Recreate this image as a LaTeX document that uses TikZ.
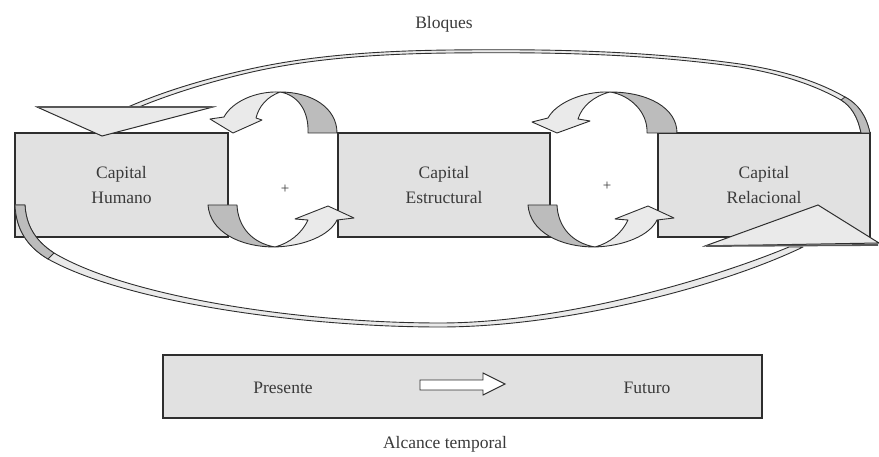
\documentclass[tikz,border=0pt]{standalone}
\usepackage{fontspec}
\setmainfont{Liberation Serif}
\definecolor{boxgray}{HTML}{E1E1E1}
\definecolor{facegray}{HTML}{EAEAEA}
\definecolor{backgray}{HTML}{BCBCBC}
\definecolor{inkgray}{HTML}{2E2E2E}
\definecolor{textgray}{HTML}{3A3A3A}
\begin{document}
\begin{tikzpicture}[x=1pt,y=-1pt,
  txt/.style={text=textgray,font=\fontsize{17.5}{25}\selectfont,align=center,inner sep=0pt},
  blockbox/.style={draw=inkgray,line width=1.4pt,fill=boxgray,inner sep=0pt,
    text=textgray,font=\fontsize{17.5}{25}\selectfont,align=center},
  backface/.style={draw=inkgray,line width=0.9pt,fill=backgray,line join=round},
  frontface/.style={draw=inkgray,line width=0.9pt,fill=facegray,line join=round},
  ribbon/.style={draw=inkgray,line width=0.9pt,fill=facegray,line join=round},
  bighead/.style={draw=inkgray,line width=1pt,fill=facegray,line join=miter},
  timearrow/.style={draw=inkgray,line width=0.9pt,fill=white}]
\useasboundingbox (0,0) rectangle (879,457);

% title
\node[txt] (bloques) at (444,24) {Bloques};

% the three capital blocks
\node[blockbox,minimum width=213pt,minimum height=104pt] (humano) at (121.5,185) {Capital\\Humano};
\node[blockbox,minimum width=212pt,minimum height=104pt] (estructural) at (444,185) {Capital\\Estructural};
\node[blockbox,minimum width=212pt,minimum height=104pt] (relacional) at (764,185) {Capital\\Relacional};

% plus signs between blocks
\node[txt,font=\fontsize{15}{16}\selectfont] (plusA) at (285,189) {+};
\node[txt,font=\fontsize{15}{16}\selectfont] (plusB) at (607,186) {+};

% circular arrows, first gap
\path[backface] (337,133) .. controls (337,108) and (312,92) .. (280,92)
  .. controls (298,95) and (309,111) .. (308,133) -- cycle;
\path[frontface] (280,92) .. controls (255,91) and (232,102) .. (224,117)
  -- (210,119) -- (233,133) -- (262,120) -- (256,118)
  .. controls (259,106) and (267,97) .. (280,92) -- cycle;
\begin{scope}
\path[backface] (208,205) -- (237,205) .. controls (238,227) and (252,243) .. (275,247)
  .. controls (240,247) and (210,232) .. (208,205) -- cycle;
\path[frontface] (275,247) .. controls (305,246) and (330,235) .. (337,220)
  -- (354,218) -- (328,206) -- (295,219) -- (308,220)
  .. controls (302,233) and (290,243) .. (275,247) -- cycle;
\end{scope}

% circular arrows, second gap
\path[backface] (677,133) .. controls (677,108) and (648,92) .. (610,92)
  .. controls (630,95) and (648,112) .. (647,133) -- cycle;
\path[frontface] (610,92) .. controls (583,91) and (556,103) .. (548,118)
  -- (532,122) -- (557,133) -- (590,121) -- (578,119)
  .. controls (582,106) and (594,96) .. (610,92) -- cycle;
\begin{scope}[xshift=320pt]
\path[backface] (208,205) -- (237,205) .. controls (238,227) and (252,243) .. (275,247)
  .. controls (240,247) and (210,232) .. (208,205) -- cycle;
\path[frontface] (275,247) .. controls (305,246) and (330,235) .. (337,220)
  -- (354,218) -- (328,206) -- (295,219) -- (308,220)
  .. controls (302,233) and (290,243) .. (275,247) -- cycle;
\end{scope}

% upper return ribbon, from the relational block back to the human block
\path[ribbon] (870,133) .. controls (866,115) and (858,104) .. (845,97)
  .. controls (815,80) and (780,70) .. (740,64)
  .. controls (640,50) and (540,49) .. (450,50)
  .. controls (360,51) and (300,58) .. (250,69)
  .. controls (200,80) and (160,93) .. (128,107)
  -- (139,107)
  .. controls (166,96) and (204,83) .. (252,72)
  .. controls (301,61) and (360,54) .. (450,53)
  .. controls (540,52) and (640,53) .. (739,67)
  .. controls (776,73) and (811,83) .. (841,100)
  .. controls (851,106) and (858,117) .. (861,133) -- cycle;
\path[backface,line width=0.8pt] (870,133) .. controls (866,115) and (858,104) .. (845,97)
  -- (841,100) .. controls (851,106) and (858,117) .. (861,133) -- cycle;
\path[bighead] (37,107) -- (213,107) -- (102,136) -- cycle;
\draw[draw=inkgray!80,line width=1.8pt] (38,107) -- (212,107);

% lower ribbon, from the human block forward to the relational block
\path[ribbon] (15,205) .. controls (16,228) and (26,246) .. (48,259)
  .. controls (125,302) and (300,327) .. (440,327)
  .. controls (565,327) and (720,287) .. (803,247)
  -- (789,247)
  .. controls (707,281) and (560,323) .. (440,323)
  .. controls (300,323) and (128,297) .. (54,253)
  .. controls (34,240) and (26,224) .. (25,205) -- cycle;
\path[backface,line width=0.8pt] (15,205) .. controls (16,228) and (26,246) .. (48,259)
  -- (54,253) .. controls (34,240) and (26,224) .. (25,205) -- cycle;
\path[bighead] (705,246) -- (818,205) -- (879,243) -- cycle;
\draw[draw=inkgray!80,line width=1.8pt] (706,246) -- (878,245);

% time scope bar
\node[blockbox,minimum width=599pt,minimum height=63pt] (alcance) at (462.5,386.5) {};
\node[txt] (presente) at (283,388) {Presente};
\node[txt] (futuro) at (647,388) {Futuro};
\path[timearrow] (420,380) -- (483,380) -- (483,373) -- (505,384) -- (483,395)
  -- (483,390) -- (420,390) -- cycle;
\node[txt] (alcancelabel) at (445,444) {Alcance temporal};
\end{tikzpicture}
\end{document}
